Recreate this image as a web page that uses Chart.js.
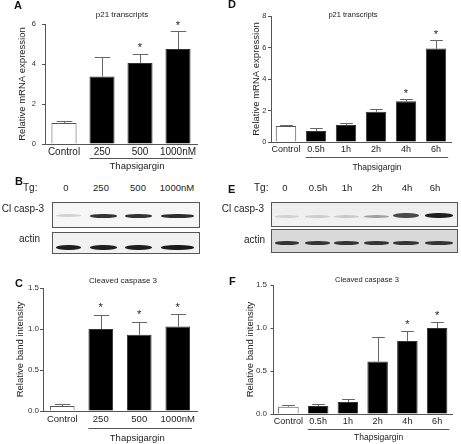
<!DOCTYPE html>
<html>
<head>
<meta charset="utf-8">
<script src="https://cdn.jsdelivr.net/npm/chart.js@4.4.1/dist/chart.umd.min.js"></script>
<style>
  html, body { margin:0; padding:0; background:#fff; }
  body { width:461px; height:444px; position:relative; overflow:hidden; font-family:'Liberation Sans', Arial, sans-serif; color:#222; }
  canvas { position:absolute; }
  .t { position:absolute; white-space:nowrap; line-height:1; }
  .letter { position:absolute; font-weight:bold; font-size:11px; line-height:1; color:#111; }
  .box { position:absolute; border:1px solid #555; box-sizing:border-box; overflow:hidden; }
  .band { position:absolute; border-radius:45%; filter:blur(0.7px); }
</style>
</head>
<body>
<canvas id="cA" width="230" height="175" style="left:0;top:0"></canvas>
<canvas id="cD" width="231" height="175" style="left:230px;top:0"></canvas>
<canvas id="cC" width="230" height="182" style="left:0;top:262px"></canvas>
<canvas id="cF" width="231" height="182" style="left:230px;top:262px"></canvas>
<div id="blots"></div>
<script>
// ---------------- data ----------------
const doseLabels = ['Control', '250', '500', '1000nM'];
const timeLabels = ['Control', '0.5h', '1h', '2h', '4h', '6h'];

const p21DoseMean = [1.05, 3.38, 4.05, 4.75];
const p21DoseErr  = [0.08, 0.95, 0.45, 0.88];
const p21DoseSig  = [false, false, true, true];
const p21DoseTicks = [0, 2, 4, 6];

const p21TimeMean = [1.01, 0.70, 1.08, 1.92, 2.58, 5.93];
const p21TimeErr  = [0.04, 0.17, 0.10, 0.15, 0.12, 0.53];
const p21TimeSig  = [false, false, false, false, true, true];
const p21TimeTicks = [0, 2, 4, 6, 8];

const casDoseMean = [0.06, 1.00, 0.93, 1.03];
const casDoseErr  = [0.025, 0.17, 0.16, 0.15];
const casDoseSig  = [false, true, true, true];

const casTimeMean = [0.085, 0.093, 0.14, 0.61, 0.85, 1.00];
const casTimeErr  = [0.015, 0.023, 0.03, 0.29, 0.11, 0.07];
const casTimeSig  = [false, false, false, false, true, true];
const bandTicks = [0, 0.5, 1.0, 1.5];

const doseLaneLabels = ['0', '250', '500', '1000nM'];
const timeLaneLabels = ['0', '0.5h', '1h', '2h', '4h', '6h'];
// relative band darkness read from the blots (0 = none, 1 = darkest)
const blotBCasp  = [0.12, 0.85, 0.85, 0.88];
const blotBActin = [0.95, 0.95, 0.95, 0.97];
const blotECasp  = [0.12, 0.14, 0.16, 0.35, 0.75, 0.95];
const blotEActin = [0.85, 0.85, 0.85, 0.85, 0.85, 0.85];

const FONT = "'Liberation Sans', Arial, sans-serif";
Chart.defaults.font.family = FONT;

// --------------- decorations plugin -----------------
const decor = {
  id: 'decor',
  afterDatasetsDraw(chart) {
    const o = chart.options.plugins.decor;
    const ctx = chart.ctx;
    const meta = chart.getDatasetMeta(0);
    const ys = chart.scales.y;
    const vals = chart.data.datasets[0].data;
    ctx.save();
    // error bars and stars
    meta.data.forEach((bar, i) => {
      const top = ys.getPixelForValue(vals[i] + o.err[i]);
      const x = Math.round(bar.x) + 0.5;
      const cw = bar.width * 0.62;
      ctx.strokeStyle = '#666';
      ctx.lineWidth = 1;
      ctx.beginPath();
      ctx.moveTo(x, bar.y);
      ctx.lineTo(x, Math.round(top) + 0.5);
      ctx.moveTo(x - cw / 2, Math.round(top) + 0.5);
      ctx.lineTo(x + cw / 2, Math.round(top) + 0.5);
      ctx.stroke();
      if (o.sig[i]) {
        ctx.fillStyle = '#222';
        ctx.font = '11px ' + FONT;
        ctx.textAlign = 'center';
        ctx.textBaseline = 'alphabetic';
        ctx.fillText('*', bar.x, top - o.starGap + 0.57 * 11);
      }
    });
    // bracket + Thapsigargin
    const b1 = meta.data[1], bn = meta.data[meta.data.length - 1];
    const x0 = b1.x - b1.width / 2, x1 = bn.x + bn.width / 2 + 2;
    ctx.strokeStyle = '#555';
    ctx.beginPath();
    ctx.moveTo(x0, o.bracketY + 0.5);
    ctx.lineTo(x1, o.bracketY + 0.5);
    ctx.stroke();
    ctx.fillStyle = '#222';
    ctx.font = o.thapSize + 'px ' + FONT;
    ctx.textAlign = 'center';
    ctx.textBaseline = 'middle';
    ctx.fillText('Thapsigargin', (x0 + x1) / 2 + o.thapDx, o.thapY);
    // panel title
    ctx.font = o.titleSize + 'px ' + FONT;
    ctx.fillText(o.title, o.titleX, o.titleY);
    ctx.restore();
  }
};
Chart.register(decor);

function makeChart(id, cfg) {
  return new Chart(document.getElementById(id), {
    type: 'bar',
    data: {
      labels: cfg.labels,
      datasets: [{
        data: cfg.mean,
        backgroundColor: cfg.mean.map((v, i) => i === 0 ? '#ffffff' : '#000000'),
        borderColor: cfg.mean.map((v, i) => i === 0 ? '#555' : '#333'),
        borderWidth: 1,
        borderSkipped: 'bottom',
        barPercentage: cfg.barPct,
        categoryPercentage: 1
      }]
    },
    options: {
      responsive: false,
      animation: false,
      devicePixelRatio: 1,
      layout: { padding: { left: 0, right: cfg.padR, top: cfg.padT, bottom: 0 } },
      plugins: {
        legend: { display: false },
        tooltip: { enabled: false },
        decor: {
          err: cfg.err, sig: cfg.sig, starGap: cfg.starGap,
          bracketY: cfg.bracketY, thapY: cfg.thapY, thapSize: cfg.thapSize, thapDx: cfg.thapDx,
          title: cfg.title, titleX: cfg.titleX, titleY: cfg.titleY, titleSize: cfg.titleSize
        }
      },
      scales: {
        x: {
          grid: { display: false, drawTicks: false, tickLength: 0 },
          border: { display: true, color: '#555', width: 1 },
          ticks: { color: '#222', font: { size: cfg.catSize }, padding: cfg.catPad, maxRotation: 0, autoSkip: false },
          afterFit: s => { s.height = cfg.xH; }
        },
        y: {
          min: 0, max: cfg.ticks[cfg.ticks.length - 1],
          afterBuildTicks: s => { s.ticks = cfg.ticks.map(v => ({ value: v })); },
          grid: { drawOnChartArea: false, drawTicks: true, tickLength: 3, color: '#555' },
          border: { display: true, color: '#555', width: 1 },
          ticks: { color: '#333', font: { size: cfg.tickSize }, padding: cfg.tickPad,
                   callback: v => cfg.dec ? Number(v).toFixed(1) : String(v) },
          title: { display: true, text: cfg.yTitle, color: '#222', font: { size: cfg.yTitleSize },
                   padding: { top: cfg.yTitlePad, bottom: 0 } },
          afterFit: s => { s.width = cfg.yW; }
        }
      }
    }
  });
}

makeChart('cA', {
  labels: doseLabels, mean: p21DoseMean, err: p21DoseErr, sig: p21DoseSig, ticks: p21DoseTicks, dec: false,
  barPct: 0.66, padR: 33, padT: 24, xH: 31, yW: 45, catSize: 10, catPad: 2,
  tickSize: 7.5, tickPad: 6, yTitle: 'Relative mRNA expression', yTitleSize: 9.5, yTitlePad: 17,
  starGap: 9, bracketY: 158, thapY: 166, thapSize: 9.5, thapDx: -4,
  title: 'p21 transcripts', titleX: 122, titleY: 15, titleSize: 8
});
makeChart('cD', {
  labels: timeLabels, mean: p21TimeMean, err: p21TimeErr, sig: p21TimeSig, ticks: p21TimeTicks, dec: false,
  barPct: 0.68, padR: 10, padT: 16, xH: 33, yW: 41, catSize: 9, catPad: 2,
  tickSize: 7.5, tickPad: 1.5, yTitle: 'Relative mRNA expression', yTitleSize: 9.5, yTitlePad: 21,
  starGap: 9, bracketY: 157, thapY: 168, thapSize: 8.5, thapDx: 0,
  title: 'p21 transcripts', titleX: 123, titleY: 15, titleSize: 7.5
});
makeChart('cC', {
  labels: doseLabels, mean: casDoseMean, err: casDoseErr, sig: casDoseSig, ticks: bandTicks, dec: true,
  barPct: 0.64, padR: 33, padT: 26, xH: 33, yW: 43, catSize: 9.5, catPad: 3,
  tickSize: 8, tickPad: 1, yTitle: 'Relative band intensity', yTitleSize: 9.5, yTitlePad: 15,
  starGap: 10, bracketY: 166, thapY: 176, thapSize: 9.5, thapDx: -3,
  title: 'Cleaved caspase 3', titleX: 123, titleY: 19, titleSize: 8
});
makeChart('cF', {
  labels: timeLabels, mean: casTimeMean, err: casTimeErr, sig: casTimeSig, ticks: bandTicks, dec: true,
  barPct: 0.69, padR: 9, padT: 23, xH: 30, yW: 43.5, catSize: 9, catPad: 2,
  tickSize: 8, tickPad: 3.5, yTitle: 'Relative band intensity', yTitleSize: 9.5, yTitlePad: 14.5,
  starGap: 9.5, bracketY: 167, thapY: 176, thapSize: 8.5, thapDx: 0,
  title: 'Cleaved caspase 3', titleX: 137, titleY: 18, titleSize: 7.5
});

// ---------------- blots & labels (HTML) ----------------
const root = document.getElementById('blots');
function txt(s, x, y, size, align, extra) {
  const d = document.createElement('div');
  d.className = 't';
  d.textContent = s;
  d.style.fontSize = size + 'px';
  d.style.top = (y - size * 0.5) + 'px';
  if (align === 'center') { d.style.left = x + 'px'; d.style.transform = 'translateX(-50%)'; }
  else if (align === 'right') { d.style.right = (461 - x) + 'px'; }
  else d.style.left = x + 'px';
  if (extra) Object.assign(d.style, extra);
  root.appendChild(d);
}
function letter(s, x, y) {
  const d = document.createElement('div');
  d.className = 'letter'; d.textContent = s;
  d.style.left = x + 'px'; d.style.top = (y - 5.5) + 'px';
  root.appendChild(d);
}
function box(x, y, w, h, bg) {
  const d = document.createElement('div');
  d.className = 'box';
  Object.assign(d.style, { left: x + 'px', top: y + 'px', width: w + 'px', height: h + 'px', background: bg });
  root.appendChild(d);
  return d;
}
function band(parent, x, y, w, h, dark) {
  const d = document.createElement('div');
  d.className = 'band';
  const g = Math.round(235 - dark * 215);
  Object.assign(d.style, { left: x + 'px', top: y + 'px', width: w + 'px', height: h + 'px', background: `rgb(${g},${g},${g})` });
  parent.appendChild(d);
}

letter('A', 14, 5); letter('B', 15, 181); letter('C', 15, 283);
letter('D', 228, 4); letter('E', 228, 189); letter('F', 229, 281);

// Panel B
txt('Tg:', 23, 188, 10);
const bLaneX = [66, 101, 138, 177];
doseLaneLabels.forEach((s, i) => txt(s, bLaneX[i], 188, 9.5, 'center'));
txt('Cl casp-3', 44, 209, 10, 'right');
txt('actin', 40, 239, 10, 'right');
const bC = box(52, 202, 148, 26, '#f6f6f6');
const bA = box(52, 232, 148, 22, '#f1f1f1');
const bLanes = [[3, 25], [37, 27], [72, 27], [108, 33]];
bLanes.forEach((l, i) => {
  band(bC, l[0], 11, l[1], blotBCasp[i] > 0.5 ? 4 : 3, blotBCasp[i]);
  band(bA, l[0], 12, l[1], 5, blotBActin[i]);
});

// Panel E
txt('Tg:', 254, 188, 10);
const eLaneX = [285, 318, 347, 377, 407, 435];
timeLaneLabels.forEach((s, i) => txt(s, eLaneX[i], 188, 9.5, 'center'));
txt('Cl casp-3', 264, 209, 10, 'right');
txt('actin', 265, 240, 10, 'right');
const eC = box(271, 202, 187, 25, 'linear-gradient(#ececec,#f3f3f3)');
const eA = box(271, 229, 187, 24, '#dadada');
const eLanes = [[3, 24], [33, 25], [62, 25], [92, 25], [121, 26], [153, 28]];
eLanes.forEach((l, i) => {
  const d = blotECasp[i];
  band(eC, l[0], d > 0.6 ? 10 : 12, l[1], d > 0.6 ? 5 : 3, d);
  band(eA, l[0], 11, l[1], 4, blotEActin[i]);
});
</script>
</body>
</html>
